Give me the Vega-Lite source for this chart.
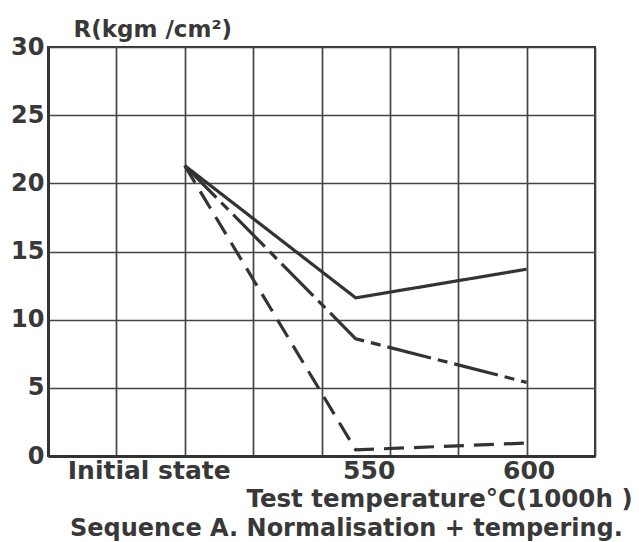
{
  "$schema": "https://vega.github.io/schema/vega-lite/v6.json",
  "width": 547,
  "height": 409,
  "autosize": {"type": "none"},
  "padding": {"left": 48, "top": 47, "right": 44, "bottom": 86},
  "background": "white",
  "title": {
    "text": "Sequence A. Normalisation + tempering.",
    "orient": "bottom",
    "anchor": "start",
    "frame": "group",
    "dx": 22,
    "offset": 6,
    "font": "DejaVu Sans",
    "fontSize": 24,
    "fontWeight": "bold",
    "color": "#383838"
  },
  "data": {
    "values": [
      {"pos": 2, "R": 21.3, "series": "A"},
      {"pos": 4.5, "R": 11.6, "series": "A"},
      {"pos": 7, "R": 13.7, "series": "A"},
      {"pos": 2, "R": 21.3, "series": "B"},
      {"pos": 4.5, "R": 8.6, "series": "B"},
      {"pos": 7, "R": 5.4, "series": "B"},
      {"pos": 2, "R": 21.3, "series": "C"},
      {"pos": 4.5, "R": 0.45, "series": "C"},
      {"pos": 7, "R": 0.95, "series": "C"}
    ]
  },
  "mark": {"type": "line", "color": "#333", "strokeWidth": 3.2},
  "encoding": {
    "x": {
      "field": "pos",
      "type": "quantitative",
      "scale": {"domain": [0, 8], "nice": false, "zero": false},
      "axis": {
        "values": [0, 1, 2, 3, 4, 4.5, 5, 6, 7, 8],
        "labelExpr": "datum.value == 2 ? 'Initial state' : datum.value == 4.5 ? '550' : datum.value == 7 ? '600' : ''",
        "ticks": false,
        "grid": true,
        "gridColor": "#444",
        "gridWidth": 1.7,
        "gridOpacity": {"condition": {"test": "datum.value == 4.5", "value": 0}, "value": 1},
        "labelOffset": {"condition": [{"test": "datum.value == 2", "value": -36}, {"test": "datum.value == 4.5", "value": 13}], "value": 2},
        "domainColor": "#333",
        "domainWidth": 3,
        "labelFont": "DejaVu Sans",
        "labelFontWeight": "bold",
        "labelFontSize": 25,
        "labelColor": "#383838",
        "labelPadding": 2,
        "labelOverlap": false,
        "labelFlush": false,
        "title": "Test temperature°C(1000h )",
        "titleFont": "DejaVu Sans",
        "titleFontSize": 24.5,
        "titleFontWeight": "bold",
        "titleColor": "#383838",
        "titleAlign": "center",
        "titleBaseline": "alphabetic",
        "titleX": 391,
        "titleY": 50
      }
    },
    "y": {
      "field": "R",
      "type": "quantitative",
      "scale": {"domain": [0, 30], "nice": false},
      "axis": {
        "values": [0, 5, 10, 15, 20, 25, 30],
        "ticks": false,
        "grid": true,
        "gridColor": "#444",
        "gridWidth": 1.7,
        "domainColor": "#333",
        "domainWidth": 3,
        "labelFont": "DejaVu Sans",
        "labelFontWeight": "bold",
        "labelFontSize": 24,
        "labelColor": "#383838",
        "labelPadding": 4,
        "labelBaseline": "middle",
        "labelFlush": false,
        "title": "R(kgm /cm²)",
        "titleFont": "DejaVu Sans",
        "titleFontSize": 23,
        "titleFontWeight": "bold",
        "titleColor": "#383838",
        "titleAngle": 0,
        "titleAlign": "left",
        "titleBaseline": "alphabetic",
        "titleX": 25,
        "titleY": -11
      }
    },
    "detail": {"field": "series"},
    "strokeDash": {
      "field": "series",
      "type": "nominal",
      "scale": {"domain": ["A", "B", "C"], "range": [[1, 0], [45, 7, 10, 7], [20, 10]]},
      "legend": null
    }
  },
  "config": {
    "view": {"stroke": "#333", "strokeWidth": 2}
  }
}
